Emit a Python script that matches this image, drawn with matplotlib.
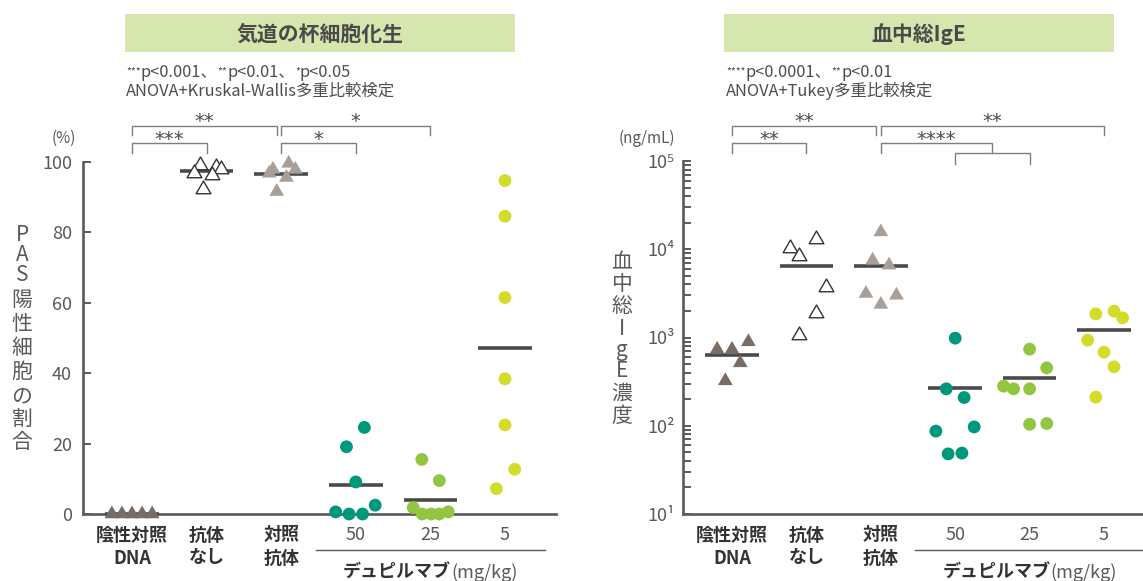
import numpy as np
import matplotlib
matplotlib.use("Agg")
import matplotlib.pyplot as plt
from matplotlib.transforms import blended_transform_factory
from matplotlib.patches import Rectangle
from matplotlib.path import Path
from matplotlib.ticker import NullFormatter, LogLocator

plt.rcParams["font.family"] = ["Noto Sans CJK JP", "DejaVu Sans"]

# ---------------- data ----------------
group_labels = ["陰性対照\nDNA", "抗体\nなし", "対照\n抗体", "50", "25", "5"]
dose_label = "デュピルマブ"
dose_unit = "(mg/kg)"

# PAS-positive cell ratio (%)
pas_neg = [0, 0, 0, 0, 0]
pas_none = [99.1, 96.8, 98.7, 97.9, 96.3, 92.2]
pas_ctrl = [97.9, 96.8, 99.6, 97.9, 95.6, 91.6]
pas_50 = [19.1, 24.6, 9.1, 0.6, 0, 0, 2.5]
pas_25 = [15.5, 9.5, 1.8, 0, 0, 0, 0.6]
pas_5 = [94.7, 84.6, 61.5, 38.4, 25.3, 12.7, 7.2]
pas_means = [0, 97.4, 96.6, 8.3, 4.1, 47.2]

# serum total IgE (ng/mL)
ige_neg = [733, 733, 893, 516, 323]
ige_none = [10200, 8400, 13000, 3740, 1900, 1080]
ige_ctrl = [15700, 7500, 6600, 3150, 3010, 2370]
ige_50 = [983, 262, 209, 87, 97, 48, 49]
ige_25 = [738, 453, 281, 262, 262, 104, 106]
ige_5 = [1850, 1990, 1670, 933, 682, 465, 211]
ige_means = [637, 6430, 6430, 265, 346, 1210]

# ---------------- layout / style ----------------
W, H, DPI = 1143, 581, 100
GRAY = "#595959"
DARK = "#333333"
LINE = "#4a4a4a"
BRK = "#7f7f7f"
TRI = Path([(0, 1.155), (-1, -0.577), (1, -0.577), (0, 1.155)],
           [Path.MOVETO, Path.LINETO, Path.LINETO, Path.CLOSEPOLY])

styles = [
    dict(marker=TRI, s=150, facecolor="#786d66", edgecolor="none"),
    dict(marker=TRI, s=150, facecolor="white", edgecolor="#333333", linewidths=1.0),
    dict(marker=TRI, s=150, facecolor="#a89f98", edgecolor="none"),
    dict(marker="o", s=85, facecolor="#00987a", edgecolor="none"),
    dict(marker="o", s=85, facecolor="#92c640", edgecolor="none"),
    dict(marker="o", s=85, facecolor="#d3dc2a", edgecolor="none"),
]

pas_jitter = [
    [-0.27, -0.135, 0, 0.135, 0.27],
    [-0.09, -0.17, 0.13, 0.19, 0.07, -0.05],
    [-0.11, -0.16, 0.10, 0.19, 0.07, -0.06],
    [-0.125, 0.115, 0, -0.27, -0.09, 0.09, 0.26],
    [-0.115, 0.12, -0.23, -0.11, 0.01, 0.12, 0.24],
    [0, 0, 0, 0, 0, 0.13, -0.115],
]
ige_jitter = [
    [-0.2, 0, 0.22, 0.11, -0.09],
    [-0.215, -0.1, 0.135, 0.26, 0.135, -0.1],
    [0, -0.11, 0.11, -0.2, 0.21, 0],
    [0, -0.12, 0.12, -0.26, 0.255, -0.095, 0.09],
    [0, 0.23, -0.35, -0.215, 0, 0, 0.23],
    [-0.11, 0.135, 0.25, -0.22, 0, 0.135, -0.11],
]

fig = plt.figure(figsize=(W / DPI, H / DPI), dpi=DPI)
renderer = fig.canvas.get_renderer()


def fx(px):
    return px / W


def fy(py):
    return 1 - py / H


ax1 = fig.add_axes([fx(83), fy(514), (556 - 83) / W, (514 - 162) / H])
ax2 = fig.add_axes([fx(683), fy(514), (1143 - 683) / W, (514 - 161) / H])

ax1.set_xlim(-0.657, 5.684)
ax1.set_ylim(0, 100)
ax2.set_xlim(-0.659, 5.524)
ax2.set_yscale("log")
ax2.set_ylim(10, 1e5)

for ax in (ax1, ax2):
    for side in ("top", "right"):
        ax.spines[side].set_visible(False)
    for side in ("left", "bottom"):
        ax.spines[side].set_color(GRAY)
        ax.spines[side].set_linewidth(1.9)
    ax.tick_params(axis="x", bottom=False, labelbottom=False)
    ax.tick_params(axis="y", which="both", direction="in", length=6,
                   width=1.4, color=GRAY, labelcolor=GRAY, labelsize=13)
    ax.patch.set_alpha(0)

ax1.set_yticks([0, 20, 40, 60, 80, 100])
ax1.tick_params(axis="y", pad=8)
ax2.set_yticks([1e1, 1e2, 1e3, 1e4, 1e5])
ax2.set_yticklabels(["10¹", "10²", "10³", "10⁴", "10⁵"])
ax2.yaxis.set_minor_locator(LogLocator(base=10, subs=np.arange(2, 10)))
ax2.yaxis.set_minor_formatter(NullFormatter())
ax2.tick_params(axis="y", pad=6)

pas_groups = [pas_neg, pas_none, pas_ctrl, pas_50, pas_25, pas_5]
ige_groups = [ige_neg, ige_none, ige_ctrl, ige_50, ige_25, ige_5]

for ax, groups, jit, means in ((ax1, pas_groups, pas_jitter, pas_means),
                               (ax2, ige_groups, ige_jitter, ige_means)):
    for i, (vals, off, m, st) in enumerate(zip(groups, jit, means, styles)):
        ax.plot([i - 0.36, i + 0.36], [m, m], color=LINE, lw=2.6,
                solid_capstyle="butt", zorder=2.6, clip_on=False)
        ax.scatter(i + np.array(off), vals, zorder=3, clip_on=False, **st)


# ---------------- helpers for text ----------------
def runs_text(x_px, y_base, runs, align="left"):
    """Write text pieces one after another on a common baseline."""
    arts, widths = [], []
    for s, size, weight, rise, color in runs:
        t = fig.text(0, 0, s, fontsize=size, fontweight=weight, color=color,
                     va="baseline", ha="left")
        widths.append(t.get_window_extent(renderer).width)
        arts.append(t)
    total = sum(widths)
    x = x_px if align == "left" else x_px - total / 2
    for t, w, r in zip(arts, widths, runs):
        t.set_position((fx(x), fy(y_base - r[3])))
        x += w


def data_px(ax, xd):
    return ax.transData.transform((xd, 1))[0]


def bracket(ax, x0, x1, ytop, ybot0, ybot1=None):
    ybot1 = ybot0 if ybot1 is None else ybot1
    tr = blended_transform_factory(ax.transData, fig.transFigure)
    ax.plot([x0, x0, x1, x1], [fy(ybot0), fy(ytop), fy(ytop), fy(ybot1)],
            transform=tr, color=BRK, lw=1.0, clip_on=False,
            solid_joinstyle="miter")


def stars(ax, xc, n, y_px):
    # asterisks sit high in the em box, so the baseline goes below the centre
    fig.text(fx(data_px(ax, xc)), fy(y_px + 8.5), "*" * n, fontsize=14,
             family="DejaVu Sans", color=LINE, ha="center", va="baseline")


def vertical_label(x_px, ys, chars):
    for y, c in zip(ys, chars):
        fig.text(fx(x_px), fy(y), c, fontsize=15, color=GRAY,
                 ha="center", va="center")


# ---------------- titles ----------------
for (x0, x1), title in (((125, 515), "気道の杯細胞化生"), ((724, 1114), "血中総IgE")):
    fig.patches.append(Rectangle((fx(x0), fy(52)), (x1 - x0) / W, 38 / H,
                                 transform=fig.transFigure, facecolor="#d5e6ae",
                                 edgecolor="none"))
    fig.text(fx((x0 + x1) / 2), fy(34), title, fontsize=15, fontweight="bold",
             color="#4a4a4a", ha="center", va="center")

NOTE = "#4d4d4d"
NS = 11.8
SS = 7.5
runs_text(126, 77, [("***", SS, "normal", 3, NOTE), ("p<0.001、", NS, "normal", 0, NOTE),
                    ("**", SS, "normal", 3, NOTE), ("p<0.01、", NS, "normal", 0, NOTE),
                    ("*", SS, "normal", 3, NOTE), ("p<0.05", NS, "normal", 0, NOTE)])
runs_text(126, 96, [("ANOVA+Kruskal-Wallis多重比較検定", NS, "normal", 0, NOTE)])
runs_text(726, 77, [("****", SS, "normal", 3, NOTE), ("p<0.0001、", NS, "normal", 0, NOTE),
                    ("**", SS, "normal", 3, NOTE), ("p<0.01", NS, "normal", 0, NOTE)])
runs_text(726, 96, [("ANOVA+Tukey多重比較検定", NS, "normal", 0, NOTE)])

fig.text(fx(64), fy(138), "(%)", fontsize=11, color=GRAY, ha="center", va="center")
fig.text(fx(647), fy(138), "(ng/mL)", fontsize=11, color=GRAY, ha="center", va="center")

# ---------------- significance brackets ----------------
bracket(ax1, 0, 1.94, 126, 135)
bracket(ax1, 2.0, 4.0, 126, 135)
bracket(ax1, 0, 1.0, 143, 153)
bracket(ax1, 2.0, 3.0, 143, 153)
stars(ax1, 0.97, 2, 118)
stars(ax1, 3.0, 1, 118)
stars(ax1, 0.5, 3, 136)
stars(ax1, 2.5, 1, 136)

bracket(ax2, 0, 1.93, 126, 135)
bracket(ax2, 2.0, 5.0, 126, 135)
bracket(ax2, 0, 1.0, 143, 153)
bracket(ax2, 2.0, 3.5, 143, 153, 153.5)
bracket(ax2, 3.0, 4.0, 153.5, 163.5)
stars(ax2, 0.97, 2, 118)
stars(ax2, 3.5, 2, 118)
stars(ax2, 0.5, 2, 136)
stars(ax2, 2.75, 4, 136)

# ---------------- axis titles ----------------
vertical_label(22, [235, 255, 275, 300, 324, 348, 372, 396, 419, 442],
               list("PAS陽性細胞の割合"))
vertical_label(622, [262, 284, 306, 329, 350, 371, 394, 416],
               ["血", "中", "総", "I", "g", "E", "濃", "度"])

# ---------------- category labels ----------------
for ax in (ax1, ax2):
    for i, lab in enumerate(group_labels):
        cx = data_px(ax, i)
        lines = lab.split("\n")
        bold = len(lines) > 1
        for j, line in enumerate(lines):
            fig.text(fx(cx), fy(535 + 23 * j), line, fontsize=13,
                     fontweight="bold" if bold else "normal",
                     color=DARK if bold else GRAY, ha="center", va="center")
    tr = blended_transform_factory(ax.transData, fig.transFigure)
    ax.plot([3 - 0.54, 5 + 0.53], [fy(550), fy(550)], transform=tr,
            color=GRAY, lw=1.0, clip_on=False)
    runs_text(data_px(ax, 4.0), 578, [(dose_label, 13, "bold", 0, DARK),
                                      (dose_unit, 13, "normal", 0, GRAY)],
              align="center")

fig.savefig("out.png", dpi=DPI)
